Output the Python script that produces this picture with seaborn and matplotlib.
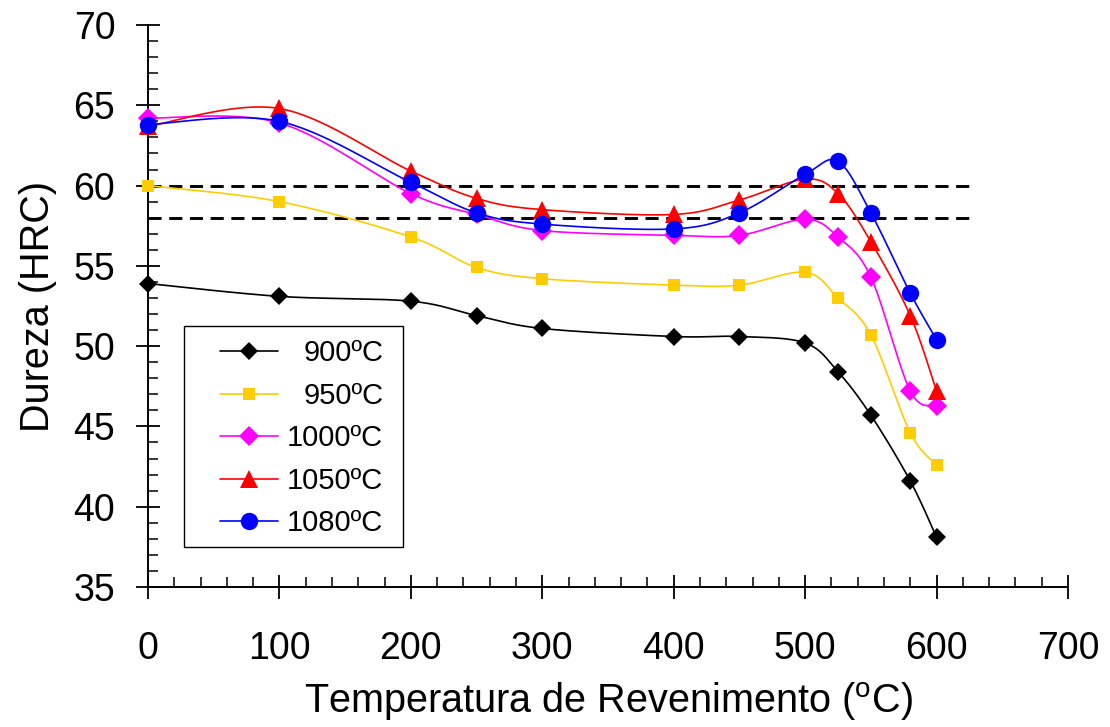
import numpy as np
import pandas as pd
import matplotlib
matplotlib.use("Agg")
import matplotlib.pyplot as plt
import seaborn as sns
from matplotlib.ticker import MultipleLocator
from matplotlib.lines import Line2D
from matplotlib.patches import Rectangle

# ---------------- data ----------------
temps = [0, 100, 200, 250, 300, 400, 450, 500, 525, 550, 580, 600]
hrc_900 = [53.9, 53.1, 52.8, 51.9, 51.1, 50.6, 50.6, 50.2, 48.4, 45.7, 41.6, 38.1]
hrc_950 = [60.0, 59.0, 56.8, 54.9, 54.2, 53.8, 53.8, 54.6, 53.0, 50.7, 44.6, 42.6]
hrc_1000 = [64.2, 63.9, 59.5, 58.2, 57.2, 56.9, 56.9, 57.9, 56.8, 54.3, 47.2, 46.3]
hrc_1050 = [63.7, 64.8, 60.9, 59.2, 58.5, 58.2, 59.1, 60.4, 59.5, 56.5, 51.9, 47.2]
hrc_1080 = [63.8, 64.0, 60.2, 58.3, 57.6, 57.3, 58.3, 60.7, 61.5, 58.3, 53.3, 50.4]
series_labels = ["900ºC", "950ºC", "1000ºC", "1050ºC", "1080ºC"]
limit_levels = [60, 58]
limit_x = [0, 630]
x_ticks = [0, 100, 200, 300, 400, 500, 600, 700]
y_ticks = [35, 40, 45, 50, 55, 60, 65, 70]

series_values = [hrc_900, hrc_950, hrc_1000, hrc_1050, hrc_1080]
colors = ["#000000", "#FFCC00", "#FF00FF", "#FF0000", "#0000FF"]
markers = ["D", "s", "D", "^", "o"]
msizes = [9.5, 9.0, 10.0, 12.5, 12.5]

# ---------------- style ----------------
sns.set_theme(style="ticks")
plt.rcParams["font.family"] = ["Liberation Sans", "DejaVu Sans"]
plt.rcParams["mathtext.fontset"] = "custom"
plt.rcParams["mathtext.rm"] = "Liberation Sans"
plt.rcParams["mathtext.it"] = "Liberation Sans"
plt.rcParams["text.color"] = "black"

W, H = 1110, 727
fig = plt.figure(figsize=(W / 100, H / 100), dpi=100)
ax = fig.add_axes([148 / W, 1 - 587 / H, 920 / W, 562 / H])

# Excel-like smoothed line (bezier through the points) computed in screen scale
sx = 920 / 700.0
sy = 562 / 35.0


def smooth(xs, ys, n=40):
    P = np.column_stack([np.asarray(xs, float) * sx, np.asarray(ys, float) * sy])
    m = len(P)
    out = [P[0]]
    t = np.linspace(0, 1, n)[1:, None]
    for i in range(m - 1):
        p0 = P[i - 1] if i > 0 else P[i]
        p1, p2 = P[i], P[i + 1]
        p3 = P[i + 2] if i + 2 < m else P[i + 1]
        c1 = p1 + (p2 - p0) / 6.0
        c2 = p2 - (p3 - p1) / 6.0
        pts = (1 - t) ** 3 * p1 + 3 * (1 - t) ** 2 * t * c1 + 3 * (1 - t) * t ** 2 * c2 + t ** 3 * p2
        out.extend(pts)
    out = np.array(out)
    return out[:, 0] / sx, out[:, 1] / sy


# dashed limit lines
for lv in limit_levels:
    sns.lineplot(x=limit_x, y=[lv, lv], ax=ax, color="black", lw=2.1,
                 linestyle=(0, (4.5, 2.6)), zorder=2)

handles = []
for vals, lab, c, mk, ms in zip(series_values, series_labels, colors, markers, msizes):
    cx, cy = smooth(temps, vals)
    dfc = pd.DataFrame({"x": cx, "y": cy})
    sns.lineplot(data=dfc, x="x", y="y", ax=ax, color=c, lw=1.2, sort=False,
                 estimator=None, zorder=3)
    ax.plot(temps, vals, linestyle="none", marker=mk, ms=ms, color=c,
            markeredgewidth=0, zorder=4, clip_on=False)
    handles.append(Line2D([], [], color=c, lw=1.2, marker=mk, ms=ms, markeredgewidth=0))

ax.set_xlim(0, 700)
ax.set_ylim(35, 70)
ax.set_xticks(x_ticks)
ax.set_yticks(y_ticks)
ax.xaxis.set_minor_locator(MultipleLocator(20))
ax.yaxis.set_minor_locator(MultipleLocator(1))

for s in ["top", "right"]:
    ax.spines[s].set_visible(False)
for s in ["left", "bottom"]:
    ax.spines[s].set_color("black")
    ax.spines[s].set_linewidth(1.4)

ax.tick_params(axis="both", which="major", direction="inout", length=17, width=1.3,
               color="black", labelsize=27, labelcolor="black")
ax.tick_params(axis="x", which="major", pad=23)
ax.tick_params(axis="y", which="major", pad=15)
ax.tick_params(axis="both", which="minor", direction="in", length=7, width=1.1, color="black")

ax.set_xlabel(r"Temperatura de Revenimento ($^{\mathrm{o}}$C)", fontsize=28.5, color="black", labelpad=10)
ax.set_ylabel("Dureza (HRC)", fontsize=28.5, color="black", labelpad=12)

# legend frame
ax.add_patch(Rectangle((0.0391, 0.0712), 0.238, 0.393, transform=ax.transAxes,
                       facecolor="white", edgecolor="black", lw=1.0, zorder=5))

leg = ax.legend(handles=handles, labels=series_labels, loc="upper left",
                bbox_to_anchor=(0.0783, 0.441), fontsize=21, frameon=False,
                handlelength=2.0, handletextpad=0.3, labelspacing=0.5,
                borderpad=0, borderaxespad=0, labelcolor="black")
leg.set_zorder(6)

# right-align legend text
fig.canvas.draw()
renderer = fig.canvas.get_renderer()
widths = [t.get_window_extent(renderer).width for t in leg.get_texts()]
maxw = max(widths)
for t, w in zip(leg.get_texts(), widths):
    t.set_ha("left")
    t.set_position((maxw - w, 0))

fig.savefig("out.png", dpi=100, facecolor="white")
